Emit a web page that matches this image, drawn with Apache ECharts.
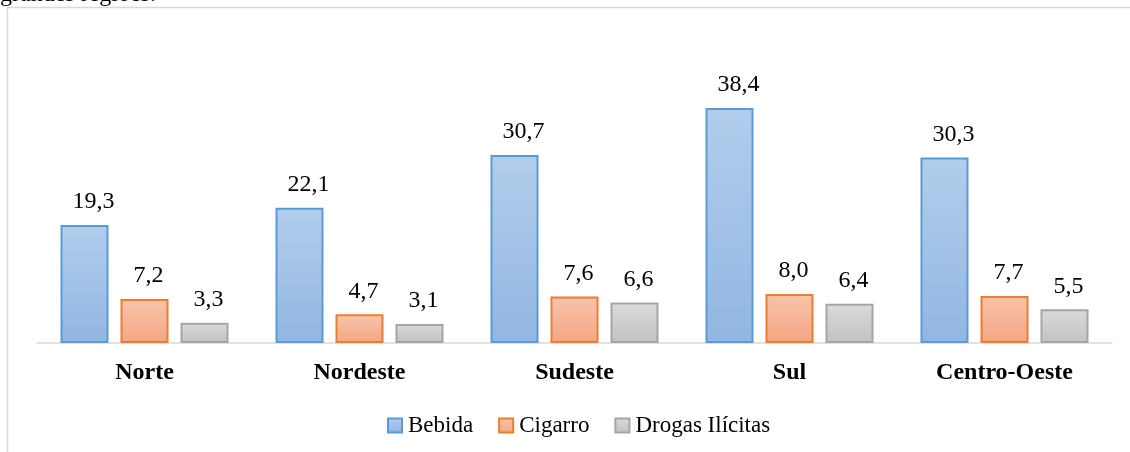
<!DOCTYPE html>
<html>
<head>
<meta charset="utf-8">
<script src="https://cdn.jsdelivr.net/npm/echarts@6/dist/echarts.min.js"></script>
<style>
html,body{margin:0;padding:0;background:#fff;}
#chart{width:1130px;height:452px;}
</style>
</head>
<body>
<div id="chart"></div>
<script>
const categories = ['Norte', 'Nordeste', 'Sudeste', 'Sul', 'Centro-Oeste'];
const seriesNames = ['Bebida', 'Cigarro', 'Drogas Ilícitas'];
const bebida = [19.3, 22.1, 30.7, 38.4, 30.3];
const cigarro = [7.2, 4.7, 7.6, 8.0, 7.7];
const drogas = [3.3, 3.1, 6.6, 6.4, 5.5];
const headerText = 'grandes regiões.';

const styles = [
  {top: '#b2cdec', bottom: '#92b6e2', border: '#5b9bd5', dx: 9},
  {top: '#f8c4ad', bottom: '#f4a681', border: '#ed7d31', dx: 4},
  {top: '#dadada', bottom: '#c2c2c2', border: '#a5a5a5', dx: 4}
];
const values = [bebida, cigarro, drogas];

const serif = '"Liberation Serif", "DejaVu Serif", serif';

const chart = echarts.init(document.getElementById('chart'), null, {renderer: 'canvas'});

const series = values.map((vals, i) => ({
  name: seriesNames[i],
  type: 'bar',
  data: vals,
  barWidth: 48,
  barGap: '25%',
  itemStyle: {
    color: new echarts.graphic.LinearGradient(0, 0, 0, 1, [
      {offset: 0, color: styles[i].top},
      {offset: 1, color: styles[i].bottom}
    ]),
    borderColor: styles[i].border,
    borderWidth: 2
  },
  label: {
    show: true,
    position: 'top',
    distance: 11,
    offset: [styles[i].dx, 0],
    fontFamily: serif,
    fontSize: 24,
    color: '#000',
    formatter: p => p.value.toFixed(1).replace('.', ',')
  }
}));

chart.setOption({
  animation: false,
  backgroundColor: '#fff',
  grid: {left: 37, right: 18, top: 67.6, bottom: 109, containLabel: false},
  legend: {
    data: seriesNames,
    icon: 'rect',
    top: 409,
    left: 382,
    itemWidth: 14,
    itemHeight: 14,
    itemGap: 25,
    textStyle: {fontFamily: serif, fontSize: 23, color: '#000', padding: [0, 0, 0, 1]}
  },
  xAxis: {
    type: 'category',
    data: categories,
    axisTick: {show: false},
    axisLine: {lineStyle: {color: '#d9d9d9', width: 1.5}},
    axisLabel: {fontFamily: serif, fontSize: 24, fontWeight: 'bold', color: '#000', margin: 18}
  },
  yAxis: {
    type: 'value',
    min: 0,
    max: 45,
    show: false,
    splitLine: {show: false}
  },
  graphic: [
    {type: 'line', shape: {x1: 7.5, y1: 7.5, x2: 7.5, y2: 452}, style: {stroke: '#d9d9d9', lineWidth: 1.5}},
    {type: 'line', shape: {x1: 7, y1: 7.5, x2: 1130, y2: 7.5}, style: {stroke: '#d9d9d9', lineWidth: 1.5}},
    {type: 'text', left: 0, top: -17, style: {text: headerText, font: '24px ' + serif, fill: '#000'}}
  ],
  series: series
});
</script>
</body>
</html>
